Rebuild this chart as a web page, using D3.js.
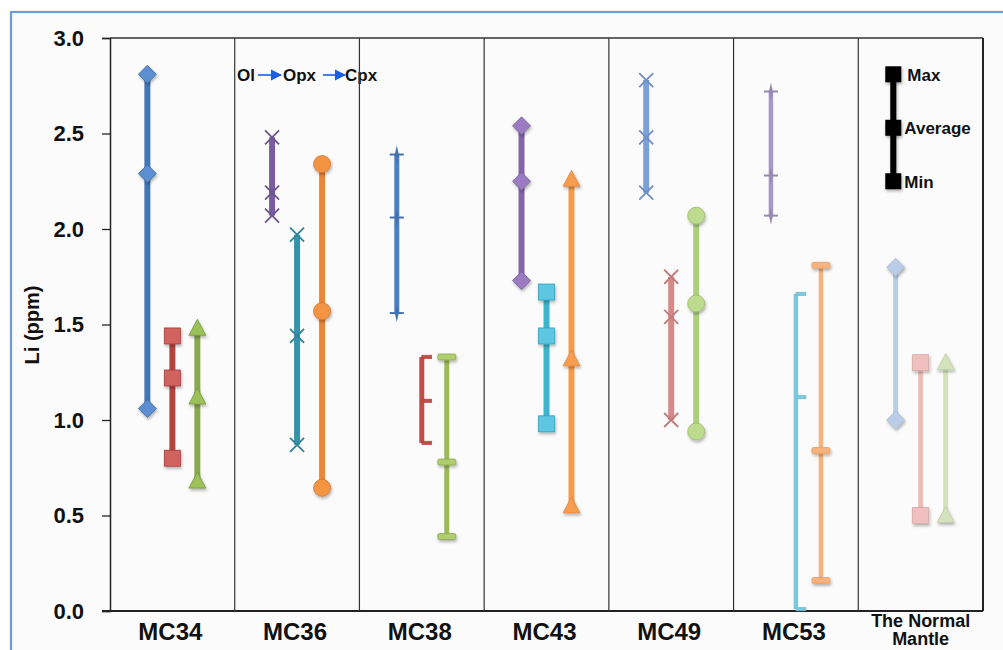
<!DOCTYPE html>
<html>
<head>
<meta charset="utf-8">
<script src="https://cdn.jsdelivr.net/npm/d3@7"></script>
<style>
  html, body { margin: 0; padding: 0; background: #ffffff; }
  svg { display: block; }
  text { font-family: "Liberation Sans", Arial, sans-serif; font-weight: bold; fill: #111; }
</style>
</head>
<body>
<svg id="chart" width="1003" height="650"></svg>
<script>
// ---------------- DATA ----------------
const categories = ["MC34", "MC36", "MC38", "MC43", "MC49", "MC53", "The Normal Mantle"];
const yTicks = [0, 0.5, 1.0, 1.5, 2.0, 2.5, 3.0];
const seriesKeys = ["A", "B", "C"];   // three mineral series per sample

const maxA = [2.81, 2.48, 2.39, 2.54, 2.78, 2.72, 1.80];
const avgA = [2.29, 2.19, 2.06, 2.25, 2.48, 2.28, null];
const minA = [1.06, 2.07, 1.56, 1.73, 2.19, 2.07, 1.00];

const maxB = [1.44, 1.97, 1.33, 1.67, 1.75, 1.66, 1.30];
const avgB = [1.22, 1.44, 1.10, 1.44, 1.54, 1.12, null];
const minB = [0.80, 0.87, 0.88, 0.98, 1.00, 0.01, 0.50];

const maxC = [1.48, 2.34, 1.33, 2.26, 2.07, 1.81, 1.30];
const avgC = [1.12, 1.57, 0.78, 1.32, 1.61, 0.84, null];
const minC = [0.68, 0.645, 0.39, 0.55, 0.94, 0.16, 0.50];

const legendLabels = ["Max", "Average", "Min"];
const legendValues = [2.81, 2.53, 2.25];
const annotation = ["Ol", "Opx", "Cpx"];

// ---------------- STYLES ----------------
const lineColors = [
  ["#4576b5", "#b5433f", "#8aa84c"],
  ["#7a5c9e", "#3593aa", "#e8873a"],
  ["#4a80c4", "#c24c48", "#9bbb59"],
  ["#8466a8", "#3fb2cc", "#f59a4a"],
  ["#7b9fd6", "#d58a88", "#aecf7a"],
  ["#a898c8", "#7cc8dd", "#f8b27c"],
  ["#b9cce8", "#ecbcbb", "#d5e3bc"]
];
const markerColors = [
  ["#5b8fd0", "#d0625f", "#9bc159"],
  ["#7a5c9e", "#3593aa", "#f39443"],
  ["#4a80c4", "#c24c48", "#b0cd70"],
  ["#9b7cc2", "#5cc6e3", "#f79d50"],
  ["#7b9fd6", "#d58a88", "#bddb8c"],
  ["#a898c8", "#7cc8dd", "#f8b27c"],
  ["#b9cce8", "#f0c0bf", "#d5e3bc"]
];
const markerTypes = [
  ["diamond", "square", "triangle"],
  ["x", "x", "circle"],
  ["plus", "dashR", "dash"],
  ["diamond", "square", "triangle"],
  ["x", "x", "circle"],
  ["plus", "dashR", "dash"],
  ["diamond", "square", "triangle"]
];
const lineWidths = [6, 6, 5, 6, 6, 4.5, 5];

// ---------------- LAYOUT ----------------
const svg = d3.select("#chart");
const L = 110, R = 983, T = 38, B = 611;

// outer frame
svg.append("rect").attr("x", 11).attr("y", 12).attr("width", 1100).attr("height", 700)
  .attr("fill", "#fbfbfb").attr("stroke", "#6d9dd4").attr("stroke-width", 2.2);

const defs = svg.append("defs");
const f = defs.append("filter").attr("id", "shadow").attr("filterUnits", "userSpaceOnUse")
  .attr("x", 0).attr("y", 0).attr("width", 1003).attr("height", 650);
f.append("feDropShadow").attr("dx", 1).attr("dy", 2).attr("stdDeviation", 1.4).attr("flood-color", "#000").attr("flood-opacity", 0.3);
const arrowM = defs.append("marker").attr("id", "arr").attr("viewBox", "0 0 10 10").attr("refX", 9).attr("refY", 5)
  .attr("markerWidth", 7).attr("markerHeight", 7).attr("orient", "auto");
arrowM.append("path").attr("d", "M0,0 L10,5 L0,10 z").attr("fill", "#1b5fe0");

const x = d3.scaleBand().domain(categories).range([L, R]).padding(0);
const sub = d3.scalePoint().domain(seriesKeys).range([-25, 25]);
const y = d3.scaleLinear().domain([0, 3]).range([B, T]);

// y axis
const yAxis = d3.axisLeft(y).tickValues(yTicks).tickFormat(d3.format(".1f")).tickSize(8).tickPadding(18);
const gy = svg.append("g").attr("transform", `translate(${L},0)`).call(yAxis);
gy.select(".domain").attr("stroke", "#222").attr("stroke-width", 1.5);
gy.selectAll(".tick line").attr("stroke", "#222").attr("stroke-width", 1.3);
gy.selectAll(".tick text").style("font-size", "22px").style("font-family", "'Liberation Sans', Arial, sans-serif")
  .style("font-weight", "bold").attr("fill", "#111");

// plot border top/right and bottom axis
svg.append("line").attr("x1", L).attr("x2", R).attr("y1", T).attr("y2", T).attr("stroke", "#333").attr("stroke-width", 1.5);
svg.append("line").attr("x1", R).attr("x2", R).attr("y1", T).attr("y2", B).attr("stroke", "#222").attr("stroke-width", 2);
svg.append("line").attr("x1", L - 8).attr("x2", R).attr("y1", B).attr("y2", B).attr("stroke", "#222").attr("stroke-width", 2);

// annotation Ol -> Opx -> Cpx
const ann = svg.append("g");
const annX = [237, 283, 345];
annotation.forEach((t, i) => {
  ann.append("text").attr("x", annX[i]).attr("y", 81).style("font-size", "17px").text(t);
});
[[258, 281], [323, 345]].forEach(([a, b]) => {
  ann.append("line").attr("x1", a).attr("x2", b).attr("y1", 75).attr("y2", 75)
    .attr("stroke", "#1b5fe0").attr("stroke-width", 1.6).attr("marker-end", "url(#arr)");
});

// category dividers
categories.slice(1).forEach(c => {
  svg.append("line").attr("x1", x(c)).attr("x2", x(c)).attr("y1", T).attr("y2", B)
    .attr("stroke", "#333").attr("stroke-width", 1.2);
});

// x labels
categories.forEach((c, i) => {
  const cx = x(c) + x.bandwidth() / 2;
  if (i < 6) {
    svg.append("text").attr("x", cx - 2).attr("y", 640).attr("text-anchor", "middle")
      .style("font-size", "24px").text(c);
  } else {
    const g = svg.append("text").attr("x", cx).attr("text-anchor", "middle").style("font-size", "18px");
    g.append("tspan").attr("x", cx).attr("y", 627).text("The Normal");
    g.append("tspan").attr("x", cx).attr("y", 645).text("Mantle");
  }
});

// y title
svg.append("text").attr("transform", "translate(39,325) rotate(-90)").attr("text-anchor", "middle")
  .style("font-size", "20px").text("Li (ppm)");

// marker drawing
function drawMarker(g, type, cx, cy, fill, stroke) {
  const s = 8;
  switch (type) {
    case "diamond":
      g.append("path").attr("d", `M${cx},${cy - s - 1}L${cx + s + 1},${cy}L${cx},${cy + s + 1}L${cx - s - 1},${cy}Z`)
        .attr("fill", fill).attr("stroke", stroke).attr("stroke-width", 0.8).attr("filter", "url(#shadow)");
      break;
    case "square":
      g.append("rect").attr("x", cx - s).attr("y", cy - s).attr("width", 2 * s).attr("height", 2 * s)
        .attr("fill", fill).attr("stroke", stroke).attr("stroke-width", 0.8).attr("filter", "url(#shadow)");
      break;
    case "triangle":
      g.append("path").attr("d", `M${cx},${cy - s - 1}L${cx + s + 0.5},${cy + s - 1}L${cx - s - 0.5},${cy + s - 1}Z`)
        .attr("fill", fill).attr("stroke", stroke).attr("stroke-width", 0.8).attr("filter", "url(#shadow)");
      break;
    case "circle":
      g.append("circle").attr("cx", cx).attr("cy", cy).attr("r", s + 0.5)
        .attr("fill", fill).attr("stroke", stroke).attr("stroke-width", 0.8).attr("filter", "url(#shadow)");
      break;
    case "x":
      g.append("path").attr("d", `M${cx - 7},${cy - 7}L${cx + 7},${cy + 7}M${cx - 7},${cy + 7}L${cx + 7},${cy - 7}`)
        .attr("stroke", stroke).attr("stroke-width", 1.8).attr("fill", "none");
      break;
    case "plus":
      g.append("path").attr("d", `M${cx - 7},${cy}L${cx + 7},${cy}`).attr("stroke", stroke).attr("stroke-width", 2);
      g.append("path").attr("d", `M${cx - 2},${cy}L${cx},${cy - 9}L${cx + 2},${cy}L${cx},${cy + 9}Z`).attr("fill", stroke);
      break;
    case "dashR":
      g.append("rect").attr("x", cx).attr("y", cy - 1.8).attr("width", 10).attr("height", 3.6)
        .attr("fill", fill).attr("stroke", stroke).attr("stroke-width", 0.5);
      break;
    case "dash":
      g.append("rect").attr("x", cx - 9).attr("y", cy - 3).attr("width", 18).attr("height", 6).attr("rx", 1.5)
        .attr("fill", fill).attr("stroke", stroke).attr("stroke-width", 0.8).attr("filter", "url(#shadow)");
      break;
  }
}

const maxs = { A: maxA, B: maxB, C: maxC };
const avgs = { A: avgA, B: avgB, C: avgC };
const mins = { A: minA, B: minB, C: minC };

const gData = svg.append("g");
categories.forEach((c, ci) => {
  seriesKeys.forEach((k, si) => {
    const cx = x(c) + x.bandwidth() / 2 + sub(k);
    const col = lineColors[ci][si];
    const mcol = markerColors[ci][si];
    const type = markerTypes[ci][si];
    const g = gData.append("g");
    g.append("line").attr("x1", cx).attr("x2", cx)
      .attr("y1", y(maxs[k][ci])).attr("y2", y(mins[k][ci]))
      .attr("stroke", col).attr("stroke-width", lineWidths[ci]);
    [maxs[k][ci], avgs[k][ci], mins[k][ci]].forEach(v => {
      if (v === null || v === undefined) return;
      drawMarker(g, type, cx, y(v), mcol, d3.color(col).darker(0.3));
    });
  });
});

// legend (Max / Average / Min)
const lgx = x(categories[6]) + 35;
const lg = svg.append("g");
lg.append("rect").attr("x", lgx - 3).attr("y", y(legendValues[0])).attr("width", 6)
  .attr("height", y(legendValues[2]) - y(legendValues[0]))
  .attr("fill", "#000").attr("filter", "url(#shadow)");
legendValues.forEach((v, i) => {
  lg.append("rect").attr("x", lgx - 8).attr("y", y(v) - 8).attr("width", 16).attr("height", 16)
    .attr("fill", "#000").attr("filter", "url(#shadow)");
  lg.append("text").attr("x", lgx + (i === 0 ? 14 : 11)).attr("y", y(v) + 6.5).style("font-size", "17px").text(legendLabels[i]);
});
</script>
</body>
</html>
